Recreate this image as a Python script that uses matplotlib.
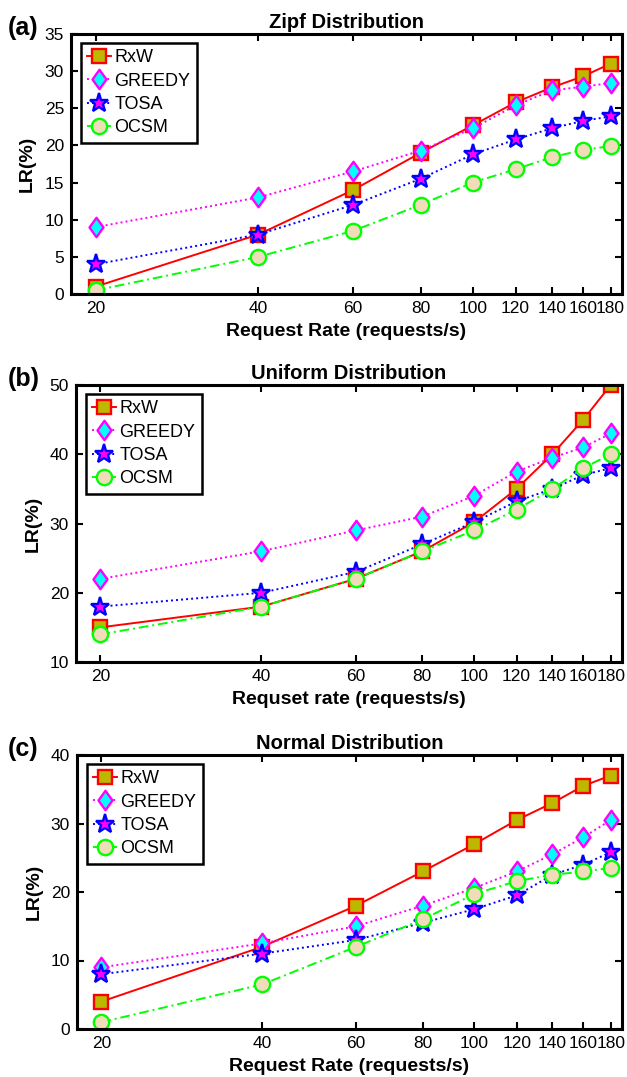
import numpy as np
import matplotlib
matplotlib.use('Agg')
from matplotlib import pyplot as plt
from matplotlib.path import Path
from matplotlib.ticker import NullLocator

plt.rcParams['font.family'] = ['Liberation Sans', 'DejaVu Sans']

rate = [20, 40, 60, 80, 100, 120, 140, 160, 180]
rate_labels = ['20', '40', '60', '80', '100', '120', '140', '160', '180']
names = ['RxW', 'GREEDY', 'TOSA', 'OCSM']

# (a) Zipf
zipf_rxw = [1, 8, 14, 19, 22.7, 25.8, 27.8, 29.3, 31]
zipf_greedy = [9, 13, 16.5, 19.3, 22.3, 25.4, 27.4, 27.9, 28.4]
zipf_tosa = [4, 8, 12, 15.5, 18.8, 20.8, 22.3, 23.3, 23.9]
zipf_ocsm = [0.5, 5, 8.5, 12, 15, 16.8, 18.4, 19.4, 19.9]

# (b) Uniform
unif_rxw = [15, 18, 22, 26, 30.2, 35, 40, 45, 50]
unif_greedy = [22, 26, 29, 31, 34, 37.5, 39.5, 41, 43]
unif_tosa = [18, 20, 23, 27, 30.2, 33.2, 35, 37, 38]
unif_ocsm = [14, 18, 22, 26, 29, 32, 35, 38, 40]

# (c) Normal
norm_rxw = [4, 12, 18, 23, 27, 30.5, 33, 35.5, 37]
norm_greedy = [9, 12.5, 15, 18, 20.6, 23, 25.5, 28, 30.5]
norm_tosa = [8, 11, 13, 15.5, 17.5, 19.5, 22.5, 24, 25.8]
norm_ocsm = [1, 6.5, 12, 16, 19.7, 21.6, 22.5, 23, 23.5]

diamond = Path([(0, 1), (0.72, 0), (0, -1), (-0.72, 0), (0, 1)],
               [Path.MOVETO, Path.LINETO, Path.LINETO, Path.LINETO, Path.CLOSEPOLY])

styles = [
    dict(color='#FF0000', ls='-', marker='s', ms=10.5, mfc='#BDB700', mec='#FF0000'),
    dict(color='#FF00FF', ls=(0, (1, 1.6)), marker=diamond, ms=14, mfc='#00FFFF', mec='#FF00FF'),
    dict(color='#0000FF', ls=(0, (1, 1.6)), marker='*', ms=14, mfc='#FF00FF', mec='#0000FF'),
    dict(color='#00FF00', ls=(0, (5, 2, 1, 2)), marker='o', ms=11, mfc='#F0DCB9', mec='#00FF00'),
]

panels = [
    ('(a)', 'Zipf Distribution', 'Request Rate (requests/s)', (0, 35), np.arange(0, 36, 5),
     [zipf_rxw, zipf_greedy, zipf_tosa, zipf_ocsm], [71, 34, 622, 294]),
    ('(b)', 'Uniform Distribution', 'Requset rate (requests/s)', (10, 50), np.arange(10, 51, 10),
     [unif_rxw, unif_greedy, unif_tosa, unif_ocsm], [76, 385, 622, 662]),
    ('(c)', 'Normal Distribution', 'Request Rate (requests/s)', (0, 40), np.arange(0, 41, 10),
     [norm_rxw, norm_greedy, norm_tosa, norm_ocsm], [77, 755, 622, 1029]),
]

W, H = 627, 1077
fig = plt.figure(figsize=(W / 100, H / 100), dpi=100)

for tag, title, xlab, ylim, yticks, series, box in panels:
    l, t, r, b = box
    ax = fig.add_axes([l / W, 1 - b / H, (r - l) / W, (b - t) / H])
    for vals, name, st in zip(series, names, styles):
        ax.plot(rate, vals, label=name, lw=1.4, mew=1.7, **st)
    ax.set_xscale('log')
    ax.set_xlim(18, 189)
    ax.set_ylim(*ylim)
    ax.set_xticks(rate)
    ax.set_xticklabels(rate_labels)
    ax.xaxis.set_minor_locator(NullLocator())
    ax.set_yticks(yticks)
    ax.tick_params(direction='in', length=5, width=1.5, top=True, right=True,
                   labelsize=12.5, pad=5)
    for s in ax.spines.values():
        s.set_linewidth(2.2)
    ax.set_title(title, fontsize=14.5, fontweight='bold', pad=4)
    ax.set_xlabel(xlab, fontsize=14, fontweight='bold', labelpad=5)
    ax.set_ylabel('LR(%)', fontsize=14, fontweight='bold', labelpad=6)
    leg = ax.legend(loc='upper left', bbox_to_anchor=(10 / (r - l), 1 - 9 / (b - t)),
                    borderaxespad=0, fontsize=13, fancybox=False, framealpha=1,
                    edgecolor='black', handlelength=1.3, handletextpad=0.2,
                    labelspacing=0.35, borderpad=0.35)
    leg.get_frame().set_linewidth(1.8)
    fig.text(8 / W, 1 - (t - 6) / H, tag, fontsize=18, fontweight='bold', va='center', ha='left')

fig.savefig('out.png', dpi=100)
